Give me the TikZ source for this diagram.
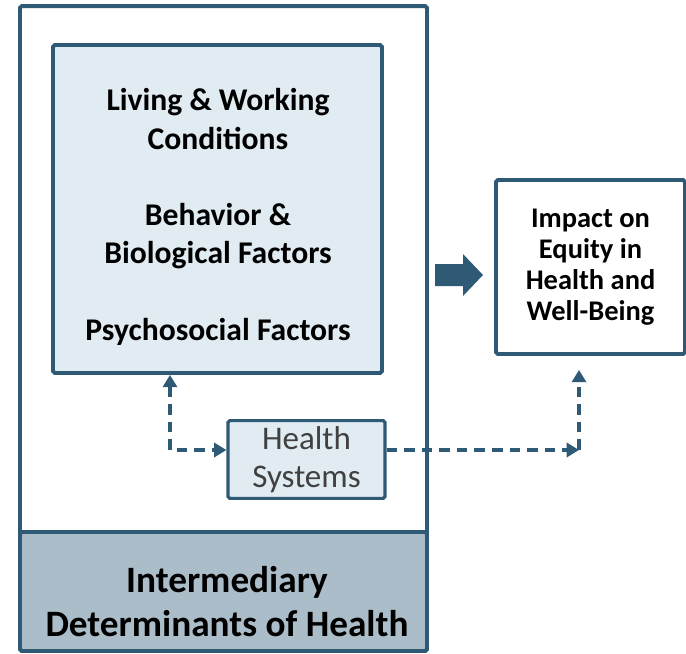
\documentclass[tikz,border=0pt]{standalone}
\usepackage{fontspec}
\setmainfont{Carlito}
\usetikzlibrary{arrows.meta}
\definecolor{sdblue}{RGB}{47,90,118}
\definecolor{sdlight}{RGB}{225,235,242}
\definecolor{sdgray}{RGB}{171,189,200}
\definecolor{sdtext}{RGB}{64,64,64}
\tikzset{
  box/.style={draw=sdblue, line width=2.2pt, rounded corners=1pt},
  dasharrow/.style={draw=sdblue, line width=2.4pt, dash pattern=on 6pt off 4pt,
    arrows={-{Triangle[length=7pt,width=8pt]}}}
}
\begin{document}
\begin{tikzpicture}[x=0.02cm, y=-0.02cm]
      \useasboundingbox (0,0) rectangle (686,653);
      \node[box, fill=white, minimum width=8.14cm, minimum height=12.9cm] (outer) at (223.5,328.5) {};
      \node[box, fill=sdgray, minimum width=8.14cm, minimum height=2.38cm] (base) at (223.5,591.5) {};
      \node[align=center, font=\fontsize{21.2}{25}\selectfont\bfseries] (basetext) at (227,602) {Intermediary\\Determinants of Health};
      \node[box, fill=sdlight, minimum width=6.58cm, minimum height=6.56cm] (inner) at (217.5,209) {};
      \node[align=center, font=\fontsize{18}{21.8}\selectfont\bfseries] (innertext) at (218,217)
        {Living \& Working\\Conditions\\[21.8pt]Behavior \&\\Biological Factors\\[21.8pt]Psychosocial Factors};
      \node[box, line width=1.8pt, fill=sdlight, minimum width=3.14cm, minimum height=1.46cm,
        align=center, text=sdtext, font=\fontsize{18.8}{21.5}\selectfont] (hs) at (306.5,459.5) {Health\\Systems};
      \node[box, fill=white, minimum width=3.78cm, minimum height=3.48cm,
        align=center, font=\fontsize{16.2}{17.6}\selectfont\bfseries] (impact) at (590.5,267)
        {Impact on\\Equity in\\Health and\\Well-Being};
      \fill[sdblue] (435,264) -- (463,264) -- (463,254) -- (483,275) -- (463,296) -- (463,286) -- (435,286) -- cycle;
      \coordinate (lc) at (170,450);
      \coordinate (rc) at (579,450);
      \begin{scope}
        \draw[dasharrow, {Triangle[length=7pt,width=8pt]}-{Triangle[length=7pt,width=8pt]}]
          (lc |- inner.south) -- (lc) -- (hs.west |- lc);
        \draw[dasharrow] (hs.east |- rc) -- (rc);
        \draw[dasharrow, shorten >=0.28cm] (rc) -- (rc |- impact.south);
      \end{scope}
    \end{tikzpicture}
\end{document}
